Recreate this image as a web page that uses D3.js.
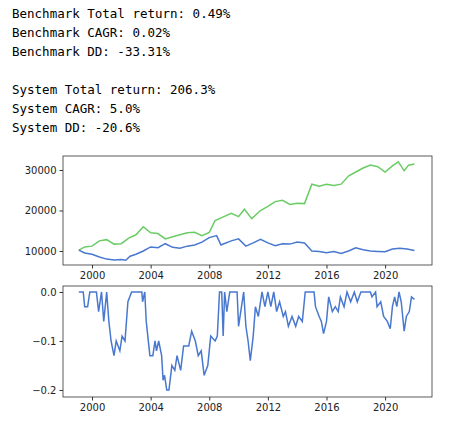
<!DOCTYPE html>
<html><head><meta charset="utf-8">
<script src="https://cdn.jsdelivr.net/npm/d3@7"></script>
<style>body{margin:0;background:#fff}</style>
</head><body><div id="chart"></div>
<script>
//Summary lines
let statLines = ["Benchmark Total return: 0.49%", "Benchmark CAGR: 0.02%", "Benchmark DD: -33.31%", "",
	"System Total return: 206.3%", "System CAGR: 5.0%", "System DD: -20.6%"];

//Equity curves [year, value]
let benchmark = [[1999.1,10200],[1999.5,9500],[2000,9200],[2000.5,8500],[2001,8000],[2001.5,7800],[2002,7900],[2002.3,7700],[2002.6,8700],[2003,9200],[2003.5,10000],[2004,11000],[2004.5,10800],[2005,11800],[2005.5,10900],[2006,10700],[2006.5,11200],[2007,11500],[2007.5,12200],[2008,13300],[2008.5,13800],[2008.8,11500],[2009,11800],[2009.5,12500],[2010,13000],[2010.5,11200],[2011,12000],[2011.5,12900],[2012,12000],[2012.5,11300],[2013,11800],[2013.5,11700],[2014,12200],[2014.5,12000],[2015,10000],[2015.5,9900],[2016,9600],[2016.5,9900],[2017,9400],[2017.5,10000],[2018,10800],[2018.5,10300],[2019,10000],[2019.5,9900],[2020,9800],[2020.5,10500],[2021,10700],[2021.5,10500],[2022,10100]];
let system = [[1999.1,10200],[1999.5,11000],[2000,11200],[2000.5,12500],[2001,12800],[2001.5,11700],[2002,11800],[2002.5,13200],[2003,14000],[2003.5,16000],[2004,14500],[2004.5,14300],[2005,13000],[2005.5,13500],[2006,14000],[2006.5,14500],[2007,14600],[2007.5,13800],[2008,14600],[2008.4,17500],[2009,18500],[2009.5,19300],[2010,18500],[2010.4,20300],[2010.9,18000],[2011.5,20000],[2012,21000],[2012.5,22200],[2013,22500],[2013.5,21500],[2014,21800],[2014.5,21700],[2015,26500],[2015.5,26000],[2016,26500],[2016.5,26200],[2017,26500],[2017.5,28500],[2018,29500],[2018.5,30500],[2019,31200],[2019.5,30800],[2020,29500],[2020.5,31000],[2020.9,32000],[2021.3,29800],[2021.6,31200],[2022,31500]];

//Drawdown [year, dd]
let drawdown = [[1999.1,0],[1999.4,0],[1999.5,-0.03],[1999.7,-0.03],[1999.85,0],[2000.3,0],[2000.45,-0.04],[2000.65,0],[2000.8,-0.06],[2001,0],[2001.15,-0.06],[2001.3,-0.1],[2001.5,-0.13],[2001.65,-0.1],[2001.9,-0.12],[2002.05,-0.09],[2002.25,-0.1],[2002.45,-0.02],[2002.7,0],[2003.4,0],[2003.45,-0.02],[2003.6,0],[2003.7,-0.06],[2003.95,-0.13],[2004.15,-0.13],[2004.3,-0.1],[2004.4,-0.12],[2004.55,-0.1],[2004.75,-0.13],[2004.85,-0.18],[2004.95,-0.17],[2005.1,-0.2],[2005.25,-0.2],[2005.45,-0.15],[2005.65,-0.16],[2005.8,-0.13],[2006.05,-0.16],[2006.25,-0.11],[2006.6,-0.11],[2006.8,-0.08],[2007.05,-0.1],[2007.25,-0.13],[2007.45,-0.12],[2007.65,-0.17],[2007.9,-0.15],[2008.1,-0.09],[2008.4,-0.1],[2008.55,-0.09],[2008.7,0],[2008.85,0],[2008.95,-0.09],[2009.05,0],[2009.2,-0.04],[2009.4,0],[2009.9,0],[2010.0,-0.07],[2010.2,-0.03],[2010.35,0],[2010.5,-0.07],[2010.65,-0.1],[2010.8,-0.14],[2011.0,-0.09],[2011.15,-0.03],[2011.35,-0.05],[2011.6,0],[2011.8,-0.03],[2012.0,0],[2012.2,-0.03],[2012.4,0],[2012.6,-0.04],[2012.8,-0.02],[2013.05,-0.05],[2013.2,-0.04],[2013.4,-0.07],[2013.65,-0.05],[2013.9,-0.07],[2014.1,-0.05],[2014.35,-0.06],[2014.55,0],[2015.15,0],[2015.25,-0.03],[2015.5,-0.05],[2015.65,-0.06],[2015.8,-0.085],[2016.0,-0.06],[2016.15,-0.01],[2016.4,-0.04],[2016.6,-0.03],[2016.8,-0.04],[2016.95,-0.01],[2017.2,-0.03],[2017.4,0],[2017.65,-0.02],[2017.9,0],[2018.1,-0.02],[2018.35,0],[2019.0,0],[2019.1,-0.01],[2019.35,0],[2019.45,-0.03],[2019.7,-0.02],[2019.9,-0.05],[2020.15,-0.06],[2020.35,-0.075],[2020.5,-0.03],[2020.65,-0.01],[2020.8,-0.03],[2020.95,0],[2021.1,-0.02],[2021.3,-0.08],[2021.45,-0.05],[2021.65,-0.04],[2021.8,-0.01],[2022.0,-0.015]];

let xTicks = [2000, 2004, 2008, 2012, 2016, 2020];
let topTicks = [10000, 20000, 30000];
let ddTicks = [0, -0.1, -0.2];

let width = 454, height = 431;
let left = 63, right = 432;

let svg = d3.select("#chart").append("svg")
	.attr("width", width)
	.attr("height", height);

//Text block
svg.selectAll(".stat")
	.data(statLines)
	.enter().append("text")
		.attr("x", 12)
		.attr("y", (d, i) => 18 + i * 19)
		.style("font-family", "DejaVu Sans Mono")
		.style("font-size", "12.5px")
		.attr("fill", "#000")
		.text(d => d);

let x = d3.scaleLinear().domain([1998.02, 2023.2]).range([left, right]);

let drawPanel = function(top, bottom, y, ticks, fmt, series){
	svg.append("g")
		.attr("transform", "translate(0," + bottom + ")")
		.call(d3.axisBottom(x).tickValues(xTicks).tickFormat(d3.format("d")).tickSize(3.5).tickSizeOuter(0))
		.call(g => g.select(".domain").remove());
	svg.append("g")
		.attr("transform", "translate(" + left + ",0)")
		.call(d3.axisLeft(y).tickValues(ticks).tickFormat(fmt).tickSize(3.5).tickSizeOuter(0))
		.call(g => g.select(".domain").remove());
	svg.selectAll(".tick text").style("font-family", "DejaVu Sans").style("font-size", "10px").attr("fill", "#222");
	svg.selectAll(".tick line").attr("stroke", "#333");

	let line = d3.line().x(d => x(d[0])).y(d => y(d[1]));
	series.forEach(s => {
		svg.append("path")
			.datum(s.data)
			.attr("fill", "none")
			.attr("stroke", s.color)
			.attr("stroke-width", 1.5)
			.attr("d", line);
	});

	svg.append("rect")
		.attr("x", left).attr("y", top)
		.attr("width", right - left).attr("height", bottom - top)
		.attr("fill", "none").attr("stroke", "#333").attr("stroke-width", 0.8);
};

let yTop = d3.scaleLinear().domain([6543, 33457]).range([265, 156]);
drawPanel(156, 265, yTop, topTicks, d3.format("d"), [
	{data: system, color: "#6acc65"},
	{data: benchmark, color: "#4878cf"}
]);

let yDD = d3.scaleLinear().domain([-0.2143, 0.0122]).range([397, 286]);
drawPanel(286, 397, yDD, ddTicks, d => d3.format(".1f")(d).replace("-", "\u2212"), [
	{data: drawdown, color: "#4878cf"}
]);
</script>
</body></html>
